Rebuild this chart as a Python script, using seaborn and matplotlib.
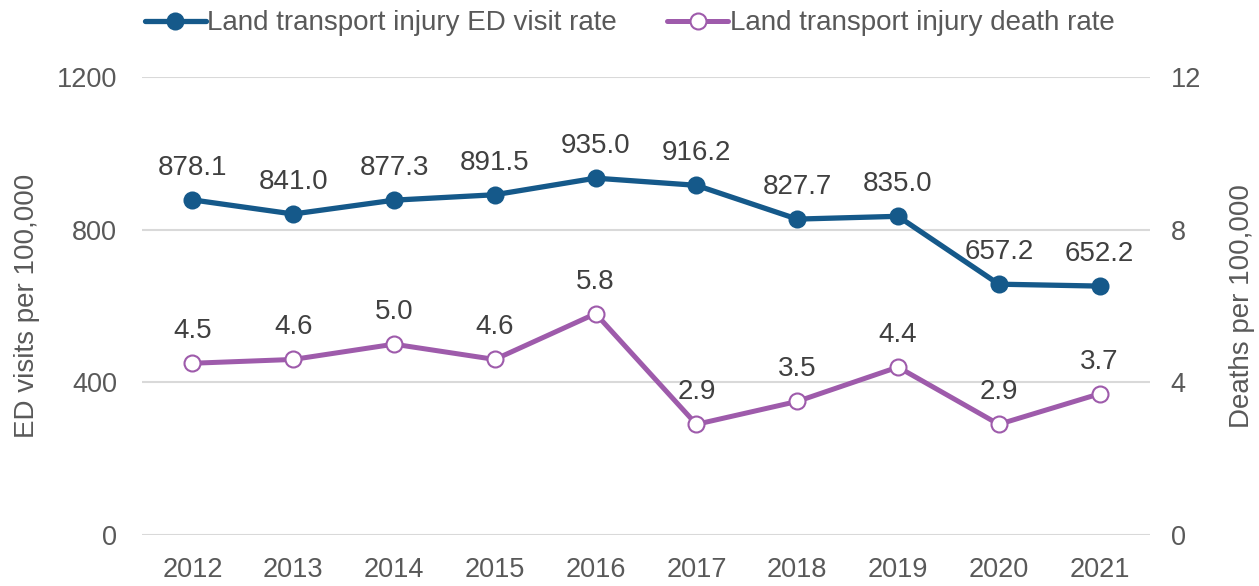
import matplotlib
matplotlib.use("Agg")
import matplotlib.pyplot as plt
import seaborn as sns
import pandas as pd

years = [2012, 2013, 2014, 2015, 2016, 2017, 2018, 2019, 2020, 2021]
ed_visit_rate = [878.1, 841.0, 877.3, 891.5, 935.0, 916.2, 827.7, 835.0, 657.2, 652.2]
death_rate = [4.5, 4.6, 5.0, 4.6, 5.8, 2.9, 3.5, 4.4, 2.9, 3.7]
left_ticks = [0, 400, 800, 1200]
right_ticks = [0, 4, 8, 12]

ed_label = "Land transport injury ED visit rate"
death_label = "Land transport injury death rate"

BLUE = "#15598A"
PURPLE = "#9E5BAB"
TICK_GREY = "#595959"
LABEL_GREY = "#404040"
GRID_GREY = "#D9D9D9"

sns.set_theme(style="white")
plt.rcParams["font.family"] = ["Liberation Sans", "DejaVu Sans"]

df = pd.DataFrame({"year": years, "ed": ed_visit_rate, "death": death_rate})

fig = plt.figure(figsize=(12.59, 5.86), dpi=100)
ax = fig.add_axes([0.1128, 0.087, 0.8006, 0.7816])
ax2 = ax.twinx()

sns.lineplot(data=df, x="year", y="ed", ax=ax, color=BLUE, linewidth=3.8,
             marker="o", markersize=11.5, markeredgecolor=BLUE,
             markerfacecolor=BLUE, markeredgewidth=1.5, label=ed_label, legend=False)
sns.lineplot(data=df, x="year", y="death", ax=ax2, color=PURPLE, linewidth=3.6,
             marker="o", markersize=11.5, markeredgecolor=PURPLE,
             markerfacecolor="white", markeredgewidth=1.5, label=death_label, legend=False)

ax.set_ylim(0, 1200)
ax2.set_ylim(0, 12)
ax.set_xlim(years[0] - 0.5, years[-1] + 0.5)
ax.set_yticks(left_ticks)
ax2.set_yticks(right_ticks)
ax.set_xticks(years)
ax.set_xticklabels([str(y) for y in years])

ax.yaxis.grid(True, color=GRID_GREY, linewidth=1.5)
ax.set_axisbelow(True)
for a in (ax, ax2):
    for s in a.spines.values():
        s.set_visible(False)
    a.tick_params(axis="both", length=0, labelsize=19.5, colors=TICK_GREY)
ax.tick_params(axis="y", pad=18)
ax.tick_params(axis="x", pad=16)
ax2.tick_params(axis="y", pad=15)

ax.set_xlabel("")
ax.set_ylabel("ED visits per 100,000", fontsize=20, color=TICK_GREY, labelpad=12)
ax2.set_ylabel("Deaths per 100,000", fontsize=20, color=TICK_GREY, labelpad=20)

for x, v in zip(years, ed_visit_rate):
    ax.annotate(f"{v:.1f}", (x, v), xytext=(0, 18), textcoords="offset points",
                ha="center", va="baseline", fontsize=20, color=LABEL_GREY)
for x, v in zip(years, death_rate):
    ax2.annotate(f"{v:.1f}", (x, v), xytext=(0, 18), textcoords="offset points",
                 ha="center", va="baseline", fontsize=20, color=LABEL_GREY)

h1, l1 = ax.get_legend_handles_labels()
h2, l2 = ax2.get_legend_handles_labels()
fig.legend(h1 + h2, l1 + l2, loc="upper center", bbox_to_anchor=(0.5, 1.025),
           ncol=2, frameon=False, fontsize=20, handlelength=2.2,
           handletextpad=0.05, columnspacing=1.8, labelcolor=TICK_GREY)

fig.savefig("out.png", dpi=100)
